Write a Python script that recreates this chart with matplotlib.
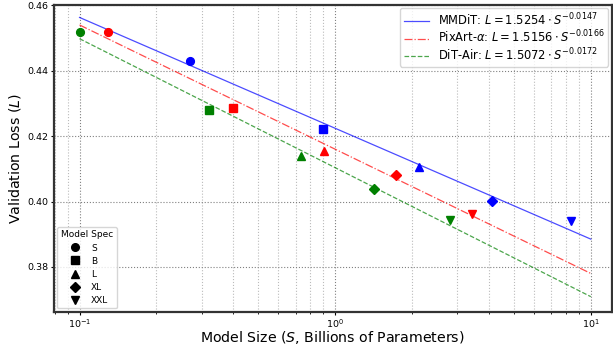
import numpy as np
import matplotlib
matplotlib.use('Agg')
import matplotlib.pyplot as plt
from matplotlib.lines import Line2D

# model specs and markers
specs = ['S', 'B', 'L', 'XL', 'XXL']
spec_markers = ['o', 's', '^', 'D', 'v']

# model sizes (billions of params) and validation loss per architecture
mmdit_size = [0.271, 0.90, 2.12, 4.12, 8.35]
mmdit_loss = [0.4429, 0.4221, 0.4107, 0.4003, 0.3939]
pixart_size = [0.1287, 0.40, 0.906, 1.73, 3.42]
pixart_loss = [0.4518, 0.4285, 0.4156, 0.4080, 0.3963]
ditair_size = [0.10, 0.321, 0.736, 1.42, 2.82]
ditair_loss = [0.4518, 0.4279, 0.4138, 0.4037, 0.3942]

# fitted lines (values at the ends of the fit range)
fit_x = [0.1, 10]
mmdit_fit = [0.4563, 0.3885]
pixart_fit = [0.4540, 0.3780]
ditair_fit = [0.4498, 0.3709]

labels = [r'MMDiT: $L = 1.5254 \cdot S^{-0.0147}$',
          r'PixArt-$\alpha$: $L = 1.5156 \cdot S^{-0.0166}$',
          r'DiT-Air: $L = 1.5072 \cdot S^{-0.0172}$']

fig = plt.figure(figsize=(6.13, 3.48), dpi=100)
ax = fig.add_axes([0.0873, 0.1034, 0.9107, 0.8831])

series = [(mmdit_size, mmdit_loss, mmdit_fit, 'blue', '-'),
          (pixart_size, pixart_loss, pixart_fit, 'red', '-.'),
          (ditair_size, ditair_loss, ditair_fit, 'green', '--')]

handles = []
for (sx, sy, fy, c, ls), lab in zip(series, labels):
    h, = ax.plot(fit_x, fy, color=c, ls=ls, lw=0.9, alpha=0.7, label=lab)
    handles.append(h)
    for x, y, m in zip(sx, sy, spec_markers):
        ax.plot(x, y, marker=m, color=c, ms=5.6, ls='none', zorder=3)

ax.set_xscale('log')
ax.set_xlim(0.0791, 12.08)
ax.set_ylim(0.3662, 0.4602)
ax.set_yticks([0.38, 0.40, 0.42, 0.44, 0.46])
ax.tick_params(which='major', labelsize=6.8, length=2.5, pad=1.2)
ax.tick_params(which='minor', length=1.5)

ax.grid(True, which='major', ls=':', color='gray', lw=0.8)
ax.grid(True, which='minor', ls=':', color='#bbbbbb', lw=0.8)
for s in ax.spines.values():
    s.set_linewidth(1.6)
    s.set_color('#333333')

ax.set_xlabel(r'Model Size ($S$, Billions of Parameters)', fontsize=10.2,
              labelpad=-0.6)
ax.set_ylabel(r'Validation Loss ($L$)', fontsize=10.2, labelpad=3)

leg1 = ax.legend(handles=handles, loc='upper right', fontsize=8.3,
                 borderaxespad=0.3, labelspacing=0.08, borderpad=0.3,
                 handlelength=2.2)
ax.add_artist(leg1)

spec_handles = [Line2D([], [], marker=m, color='black', ls='none', ms=5.5)
                for m in spec_markers]
ax.legend(spec_handles, specs, loc='lower left', fontsize=6.5,
          title='Model Spec', title_fontsize=6.5, borderaxespad=0.4,
          labelspacing=0.45)

fig.savefig('out.png', dpi=100)
